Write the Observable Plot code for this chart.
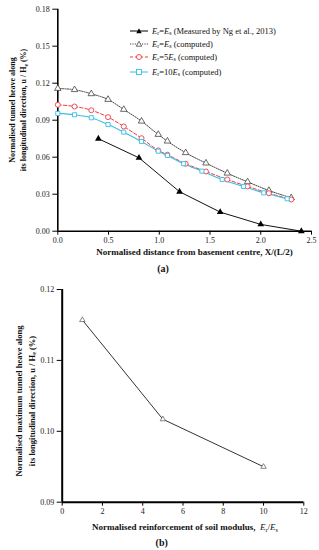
<!DOCTYPE html>
<html>
<head>
<meta charset="utf-8">
<script src="https://cdn.jsdelivr.net/npm/d3@7"></script>
<script src="https://cdn.jsdelivr.net/npm/@observablehq/plot@0.6"></script>
<style>
  html, body { margin: 0; padding: 0; background: #fff; }
  #wrap { position: relative; width: 319px; height: 550px; font-family: "Liberation Serif", "Times New Roman", serif; color: #111; overflow: hidden; }
  .abs { position: absolute; white-space: nowrap; }
  .ctr { transform: translate(-50%, -50%); text-align: center; }
  .rot { transform: translate(-50%, -50%) rotate(-90deg); text-align: center; }
  sub { font-size: 70%; vertical-align: -0.25em; line-height: 0; }
  .leg { position: absolute; left: 130px; height: 12px; display: flex; align-items: center; font-size: 8.5px; transform: translateY(-50%); }
  .leg svg { width: 18px; height: 10px; margin-right: 4px; overflow: visible; }
</style>
</head>
<body>
<div id="wrap">
  <div id="chartA" class="abs" style="left:0;top:0"></div>
  <div id="chartB" class="abs" style="left:0;top:280px"></div>

  <div class="abs rot" style="left:18.7px;top:110px;font-weight:bold;font-size:8px;line-height:10.7px">Normalised tunnel heave along<br>its longitudinal direction, u / H<sub>e</sub> (%)</div>
  <div class="abs ctr" style="left:194.5px;top:252px;font-weight:bold;font-size:9px">Normalised distance from basement centre, X/(L/2)</div>
  <div class="abs ctr" style="left:163px;top:268px;font-weight:bold;font-size:10px">(a)</div>

  <div class="leg" style="top:30.7px"><svg viewBox="0 0 18 10"><line x1="0" y1="5" x2="18" y2="5" stroke="#000" stroke-width="1"/><path d="M9,2.3 L11.7,7.2 L6.3,7.2 Z" fill="#000"/></svg><span><i>E</i><sub>r</sub>=<i>E</i><sub>s</sub> (Measured by Ng et al., 2013)</span></div>
  <div class="leg" style="top:43.7px"><svg viewBox="0 0 18 10"><line x1="0" y1="5" x2="18" y2="5" stroke="#444" stroke-width="1" stroke-dasharray="1.2,1.2"/><path d="M9,2.3 L11.7,7.2 L6.3,7.2 Z" fill="#fff" stroke="#444" stroke-width="0.8"/></svg><span><i>E</i><sub>r</sub>=<i>E</i><sub>s</sub> (computed)</span></div>
  <div class="leg" style="top:57.3px"><svg viewBox="0 0 18 10"><line x1="0" y1="5" x2="18" y2="5" stroke="#f23b45" stroke-width="1" stroke-dasharray="3,2"/><circle cx="9" cy="5" r="2.5" fill="#fff" stroke="#f23b45" stroke-width="0.9"/></svg><span style="color:#111"><i>E</i><sub>r</sub>=5<i>E</i><sub>s</sub> (computed)</span></div>
  <div class="leg" style="top:71.7px"><svg viewBox="0 0 18 10"><line x1="0" y1="5" x2="18" y2="5" stroke="#35c0e4" stroke-width="1"/><rect x="6.5" y="2.5" width="5" height="5" fill="#fff" stroke="#35c0e4" stroke-width="0.9"/></svg><span><i>E</i><sub>r</sub>=10<i>E</i><sub>s</sub> (computed)</span></div>

  <div class="abs rot" style="left:26px;top:401px;font-weight:bold;font-size:8.5px;line-height:13.4px">Normalised maximum tunnel heave along<br>its longitudinal direction, u / H<sub>e</sub> (%)</div>
  <div class="abs ctr" style="left:185px;top:526.7px;font-weight:bold;font-size:9px">Normalised reinforcement of soil modulus,&nbsp;&nbsp;<i style="font-weight:normal">E</i><sub style="font-weight:normal">r</sub><span style="font-weight:normal">/</span><i style="font-weight:normal">E</i><sub style="font-weight:normal">s</sub></div>
  <div class="abs ctr" style="left:161.7px;top:541.7px;font-weight:bold;font-size:10px">(b)</div>
</div>

<script>
// ---------- Chart (a) data ----------
const xTicksA = [0, 0.5, 1.0, 1.5, 2.0, 2.5];
const yTicksA = [0, 0.03, 0.06, 0.09, 0.12, 0.15, 0.18];

const measuredX = [0.4, 0.8, 1.2, 1.6, 2.0, 2.4];
const measuredY = [0.075, 0.0595, 0.032, 0.0155, 0.0055, 0.0];

const computedX = [0, 0.165, 0.33, 0.495, 0.65, 0.825, 0.99, 1.08, 1.26, 1.46, 1.67, 1.87, 2.08, 2.30];
const computed1Y = [0.1157, 0.1147, 0.1114, 0.1068, 0.0987, 0.0892, 0.0784, 0.073, 0.0636, 0.0552, 0.047, 0.040, 0.033, 0.0271];
const computed5Y = [0.1025, 0.1011, 0.0981, 0.0925, 0.0849, 0.0754, 0.0655, 0.062, 0.0547, 0.0484, 0.0419, 0.0363, 0.0308, 0.0257];

const computed10X = [0, 0.165, 0.33, 0.495, 0.65, 0.825, 0.99, 1.08, 1.24, 1.42, 1.62, 1.83, 2.03, 2.26];
const computed10Y = [0.0955, 0.0944, 0.092, 0.0865, 0.0803, 0.0727, 0.0649, 0.0614, 0.0547, 0.0487, 0.0419, 0.0363, 0.0311, 0.0263];

// ---------- Chart (b) data ----------
const xTicksB = [0, 2, 4, 6, 8, 10, 12];
const yTicksB = [0.09, 0.10, 0.11, 0.12];
const ratioX = [1, 5, 10];
const maxHeaveY = [0.1157, 0.1017, 0.0950];

const toRows = (xs, ys) => xs.map((x, i) => ({x, y: ys[i]}));

const measured = toRows(measuredX, measuredY);
const comp1 = toRows(computedX, computed1Y);
const comp5 = toRows(computedX, computed5Y);
const comp10 = toRows(computed10X, computed10Y);
const bRows = toRows(ratioX, maxHeaveY);

const baseStyle = {fontFamily: "Liberation Serif, Times New Roman, serif", fontSize: "8px", color: "#222", background: "transparent", overflow: "visible"};

const chartA = Plot.plot({
  width: 319, height: 280,
  marginTop: 8.7, marginLeft: 57.3, marginRight: 8, marginBottom: 49.3,
  style: baseStyle,
  x: {domain: [0, 2.5]},
  y: {domain: [0, 0.18]},
  marks: [
    Plot.axisY({ticks: yTicksA, tickFormat: d => d.toFixed(2), tickSize: 5, tickPadding: 3, label: null, stroke: "#000", strokeWidth: 1}),
    Plot.axisX({ticks: xTicksA, tickFormat: d => d.toFixed(1), tickSize: 4, tickPadding: 2, label: null, stroke: "#000", strokeWidth: 1}),
    Plot.ruleX([0], {stroke: "#000", strokeWidth: 1.6}),
    Plot.ruleY([0], {stroke: "#000", strokeWidth: 1.6}),
    Plot.line(comp1, {x: "x", y: "y", stroke: "#444", strokeWidth: 1, strokeDasharray: "1.2,1.2", curve: "monotone-x"}),
    Plot.line(comp5, {x: "x", y: "y", stroke: "#f23b45", strokeWidth: 1, strokeDasharray: "3.5,2", curve: "monotone-x"}),
    Plot.line(comp10, {x: "x", y: "y", stroke: "#35c0e4", strokeWidth: 1.1, curve: "monotone-x"}),
    Plot.line(measured, {x: "x", y: "y", stroke: "#111", strokeWidth: 1}),
    Plot.dot(comp1, {x: "x", y: "y", symbol: "triangle", r: 2.4, stroke: "#444", strokeWidth: 0.8, fill: "#fff"}),
    Plot.dot(comp5, {x: "x", y: "y", symbol: "circle", r: 2.5, stroke: "#f23b45", strokeWidth: 0.9, fill: "#fff"}),
    Plot.dot(comp10, {x: "x", y: "y", symbol: "square", r: 2.3, stroke: "#35c0e4", strokeWidth: 0.9, fill: "#fff"}),
    Plot.dot(measured, {x: "x", y: "y", symbol: "triangle", r: 2.5, fill: "#000", stroke: "none"})
  ]
});
document.getElementById("chartA").appendChild(chartA);

const chartB = Plot.plot({
  width: 319, height: 270,
  marginTop: 9, marginLeft: 61.7, marginRight: 15.7, marginBottom: 48.3,
  style: baseStyle,
  x: {domain: [0, 12]},
  y: {domain: [0.09, 0.12]},
  marks: [
    Plot.axisY({ticks: yTicksB, tickFormat: d => d.toFixed(2), tickSize: 5, tickPadding: 3, label: null, stroke: "#000", strokeWidth: 1}),
    Plot.axisX({ticks: xTicksB, tickFormat: d => d.toFixed(0), tickSize: 4, tickPadding: 2, label: null, stroke: "#000", strokeWidth: 1}),
    Plot.ruleX([0], {stroke: "#000", strokeWidth: 2}),
    Plot.ruleY([0.09], {stroke: "#000", strokeWidth: 2}),
    Plot.line(bRows, {x: "x", y: "y", stroke: "#333", strokeWidth: 1}),
    Plot.dot(bRows, {x: "x", y: "y", symbol: "triangle", r: 2, stroke: "#555", strokeWidth: 0.7, fill: "#fff"})
  ]
});
document.getElementById("chartB").appendChild(chartB);
</script>
</body>
</html>
